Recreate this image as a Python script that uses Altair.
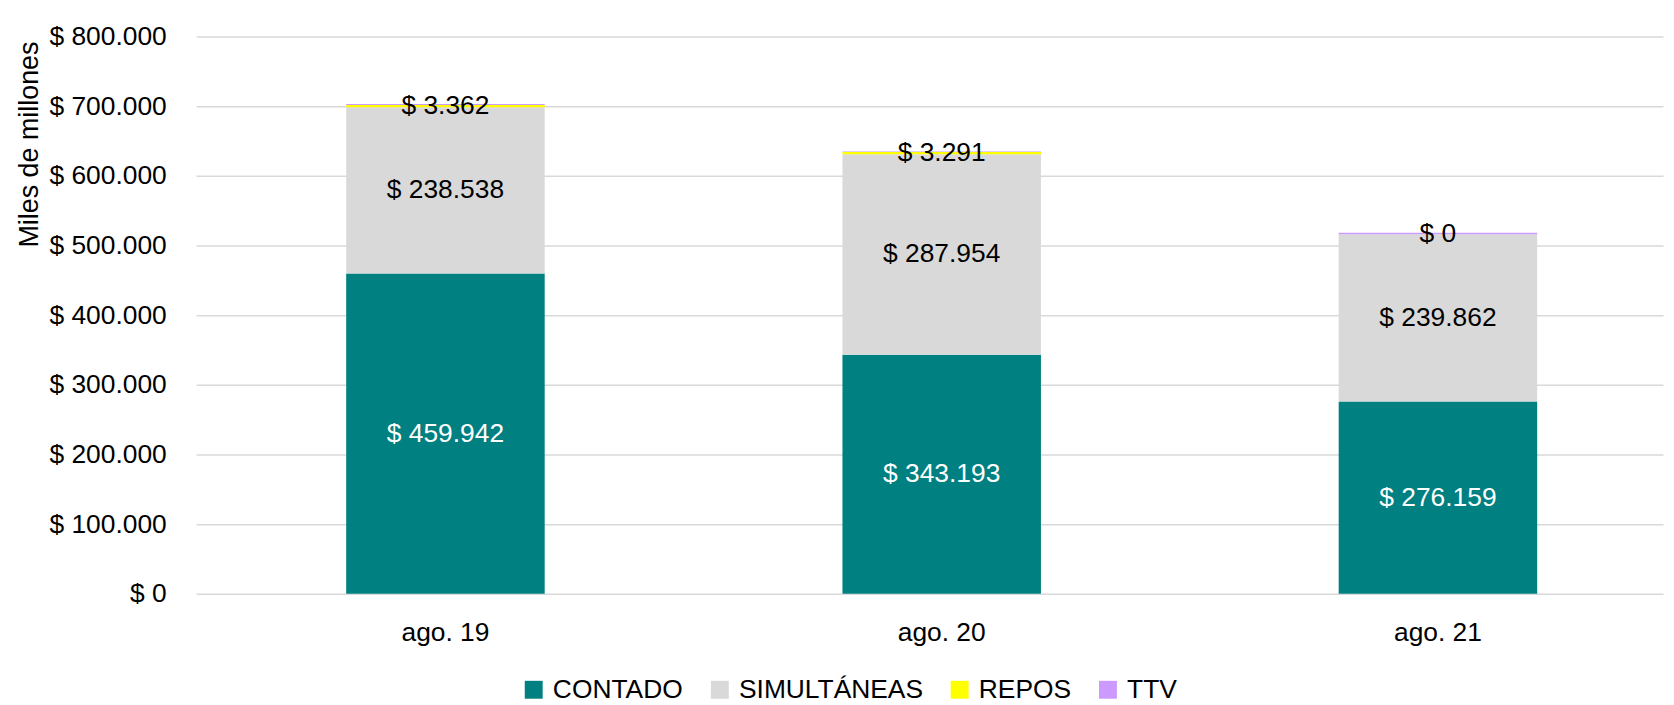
import altair as alt
import pandas as pd

periods = ["ago. 19", "ago. 20", "ago. 21"]
series = ["CONTADO", "SIMULTÁNEAS", "REPOS", "TTV"]
contado = [459942, 343193, 276159]
simultaneas = [238538, 287954, 239862]
repos = [3362, 3291, 0]
ttv = [1500, 600, 2200]
colors = ["#008080", "#d9d9d9", "#ffff00", "#cc99ff"]
label_colors = ["white", "black", "black", "black"]

FONT = "Liberation Sans"
FS = 26.5

rows = []
for si, (name, vals) in enumerate(zip(series, [contado, simultaneas, repos, ttv])):
    for p, v in zip(periods, vals):
        rows.append({
            "period": p,
            "series": name,
            "order": si,
            "value": v,
            "label": "$ " + f"{v:,}".replace(",", "."),
            "lcolor": label_colors[si],
            "show": name != "TTV",
        })
df = pd.DataFrame(rows)

base = alt.Chart(df).transform_stack(
    stack="value", groupby=["period"], as_=["v0", "v1"],
    sort=[alt.SortField("order", order="ascending")]
)

x_enc = alt.X(
    "period:N", sort=periods, title=None,
    scale=alt.Scale(paddingInner=0.6, paddingOuter=0.278, align=0.544),
    axis=alt.Axis(labelAngle=0, labelFontSize=FS, labelFont=FONT, labelColor="black",
                  ticks=False, domain=False, labelPadding=26, labelBaseline="top"),
)

y_scale = alt.Scale(domain=[0, 800000], nice=False)

bars = base.mark_bar(strokeWidth=0).encode(
    x=x_enc,
    y=alt.Y("v0:Q", scale=y_scale, title="Miles de millones",
            axis=alt.Axis(values=[0, 100000, 200000, 300000, 400000, 500000, 600000, 700000, 800000],
                          labelExpr="datum.value == 0 ? '$ 0' : '$ ' + format(datum.value/1000, 'd') + '.000'",
                          labelFontSize=FS, labelFont=FONT, labelColor="black",
                          ticks=False, domain=False, labelPadding=30,
                          grid=True, gridColor="#d9d9d9", gridWidth=1.5,
                          titleFont=FONT, titleFontSize=27, titleFontWeight="normal",
                          titleColor="black", titleX=-167, titleY=108, titleAngle=-90,
                          titleAlign="center", titleBaseline="middle")),
    y2="v1:Q",
    color=alt.Color("series:N", sort=series,
                    scale=alt.Scale(domain=series, range=colors),
                    legend=alt.Legend(title=None, orient="none", legendX=326, legendY=643,
                                      direction="horizontal", symbolType="square",
                                      symbolSize=324, symbolStrokeWidth=0,
                                      labelFontSize=FS, labelFont=FONT, labelColor="black",
                                      labelLimit=400, columnPadding=23, labelOffset=6,
                                      padding=0)),
    order=alt.Order("order:Q"),
)

texts = base.transform_filter("datum.show").transform_calculate(
    mid="(datum.v0 + datum.v1) / 2"
).mark_text(fontSize=FS, font=FONT, baseline="middle", align="center").encode(
    x=alt.X("period:N", sort=periods),
    y=alt.Y("mid:Q", scale=y_scale),
    text="label:N",
    color=alt.Color("lcolor:N", scale=None),
)

chart = alt.layer(bars, texts).properties(
    width=1474, height=560,
    padding={"left": 189, "top": 27, "right": 3, "bottom": 110},
    autosize=alt.AutoSizeParams(type="none"),
).configure_view(stroke=None)

chart.save("out.html", embed_options={"renderer": "svg", "actions": False})
